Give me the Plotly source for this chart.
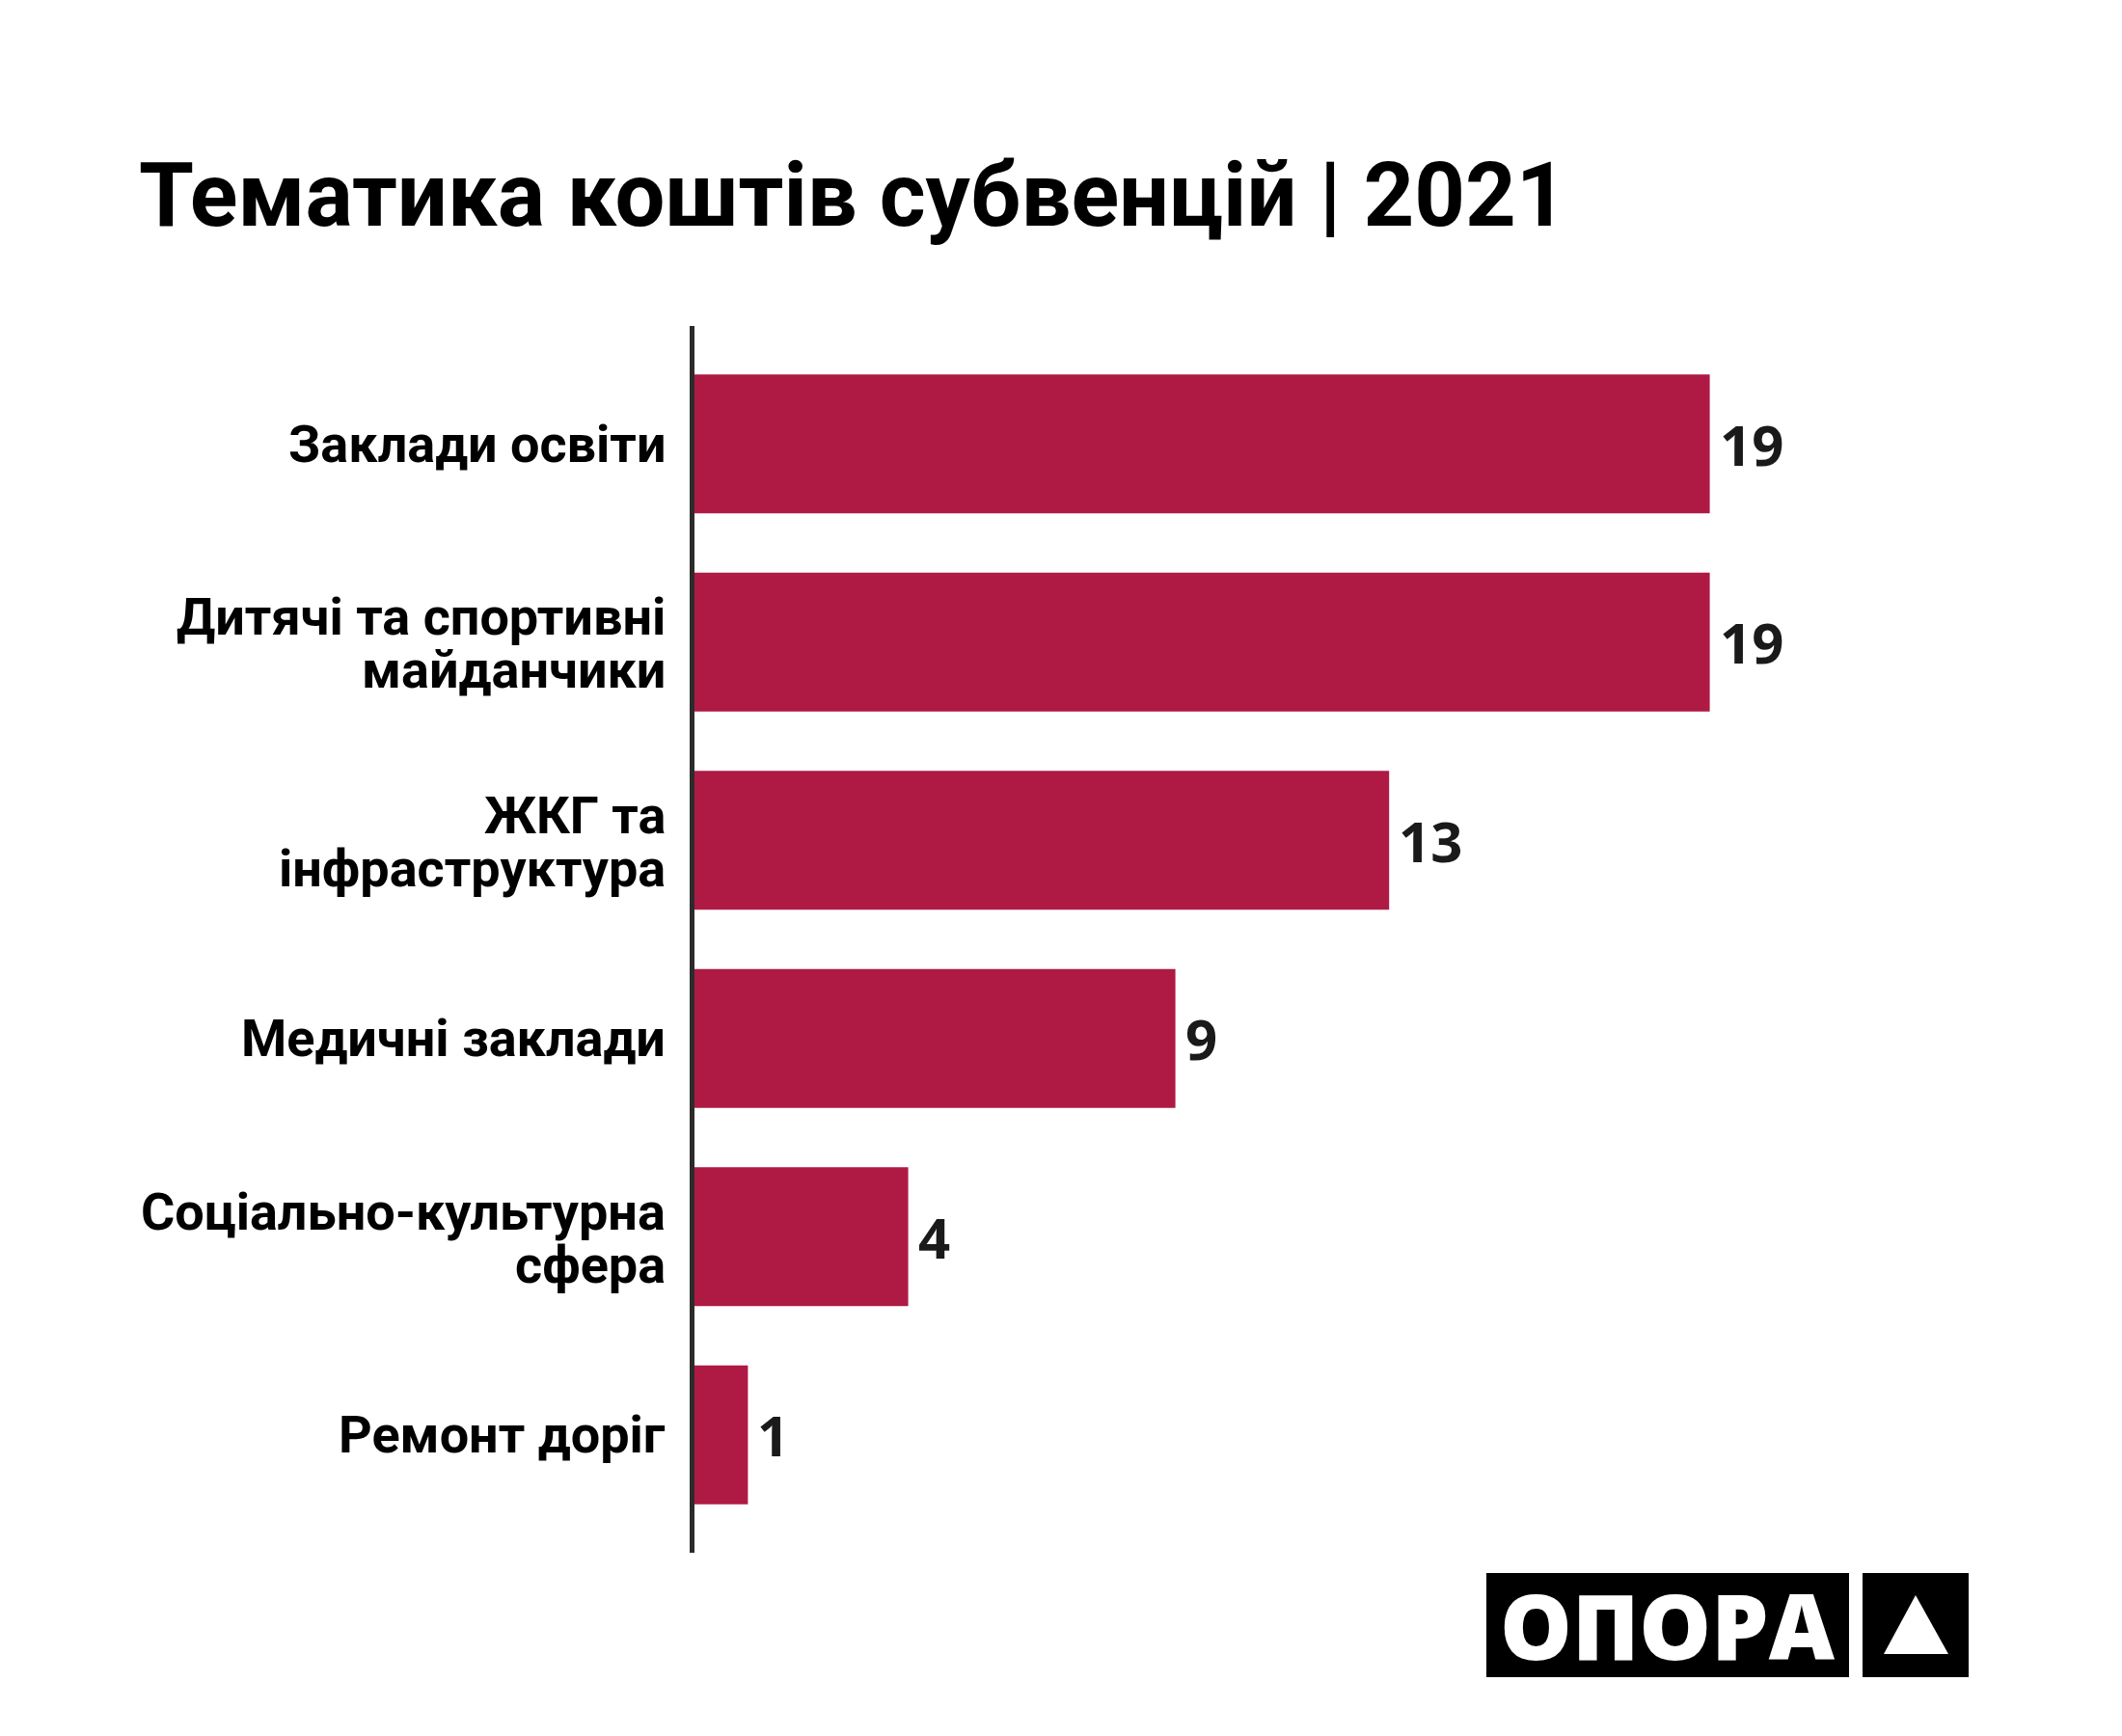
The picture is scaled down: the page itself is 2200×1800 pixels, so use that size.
import plotly.graph_objects as go

# data
categories = [
    "Заклади освіти",
    "Дитячі та спортивні\nмайданчики",
    "ЖКГ та\nінфраструктура",
    "Медичні заклади",
    "Соціально-культурна\nсфера",
    "Ремонт доріг",
]
counts = [19, 19, 13, 9, 4, 1]
title_text = "Тематика коштів субвенцій | 2021"
logo_text = "ОПОРА"

W, H = 2200, 1800
M_L, M_R, M_T, M_B = 712, 103, 330, 198
PLOT_W = W - M_L - M_R
PLOT_H = H - M_T - M_B

BAR_COLOR = "#ae1a43"
LABEL_FONT = "Roboto"
LINE_GAP = 55


def px(x):
    # page pixel -> paper x
    return (x - M_L) / PLOT_W


def py(y):
    # page pixel -> paper y
    return (H - M_B - y) / PLOT_H


fig = go.Figure()

fig.add_trace(go.Bar(
    x=counts,
    y=list(range(len(categories))),
    orientation="h",
    marker=dict(color=BAR_COLOR, line=dict(width=0)),
    hoverinfo="skip",
))

annotations = []

# category labels, one annotation per line to keep the tight line spacing
for i, label in enumerate(categories):
    lines = label.split("\n")
    n = len(lines)
    for j, line in enumerate(lines):
        shift = (n - 1) / 2 * LINE_GAP - j * LINE_GAP
        if n > 1:
            shift -= 1.5
        annotations.append(dict(
            x=0, xref="paper", y=i, yref="y",
            text=line, showarrow=False,
            xanchor="right", yanchor="middle",
            xshift=-28, yshift=shift,
            font=dict(family=LABEL_FONT, size=54, color="#000000", weight="bold"),
        ))

# value labels
for i, v in enumerate(counts):
    annotations.append(dict(
        x=v, xref="x", y=i, yref="y",
        text=str(v), showarrow=False,
        xanchor="left", yanchor="middle",
        xshift=8, yshift=0,
        font=dict(family="Open Sans", size=58, color="#1a1a1a", weight="bold"),
    ))

# logo text
annotations.append(dict(
    x=px(1721), xref="paper", y=py(1677), yref="paper",
    text=logo_text, showarrow=False,
    xanchor="center", yanchor="middle",
    font=dict(family="Open Sans", size=94, color="#ffffff", weight=800),
))

shapes = [
    dict(type="rect", xref="paper", yref="paper",
         x0=px(1533), x1=px(1909), y0=py(1731), y1=py(1623),
         fillcolor="#000000", line=dict(width=0), layer="above"),
    dict(type="rect", xref="paper", yref="paper",
         x0=px(1923), x1=px(2033), y0=py(1731), y1=py(1623),
         fillcolor="#000000", line=dict(width=0), layer="above"),
    dict(type="path", xref="paper", yref="paper",
         path=f"M {px(1978)} {py(1646)} L {px(1945)} {py(1707)} L {px(2012)} {py(1707)} Z",
         fillcolor="#ffffff", line=dict(width=0), layer="above"),
]

fig.update_layout(
    width=W,
    height=H,
    margin=dict(l=M_L, r=M_R, t=M_T, b=M_B),
    paper_bgcolor="#ffffff",
    plot_bgcolor="#ffffff",
    showlegend=False,
    bargap=0.3,
    title=dict(
        text=title_text,
        x=136 / W, xanchor="left", xref="container",
        y=1 - 194 / H, yanchor="middle", yref="container",
        font=dict(family=LABEL_FONT, size=92, color="#000000", weight="bold"),
    ),
    xaxis=dict(range=[0, 25], visible=False, fixedrange=True),
    yaxis=dict(
        range=[len(categories) - 1 + 0.595, -0.595],
        showticklabels=False, ticks="", showgrid=False, zeroline=False,
        showline=True, linecolor="#2b2b2b", linewidth=5,
        fixedrange=True,
    ),
    annotations=annotations,
    shapes=shapes,
)

fig.write_html("out.html")
